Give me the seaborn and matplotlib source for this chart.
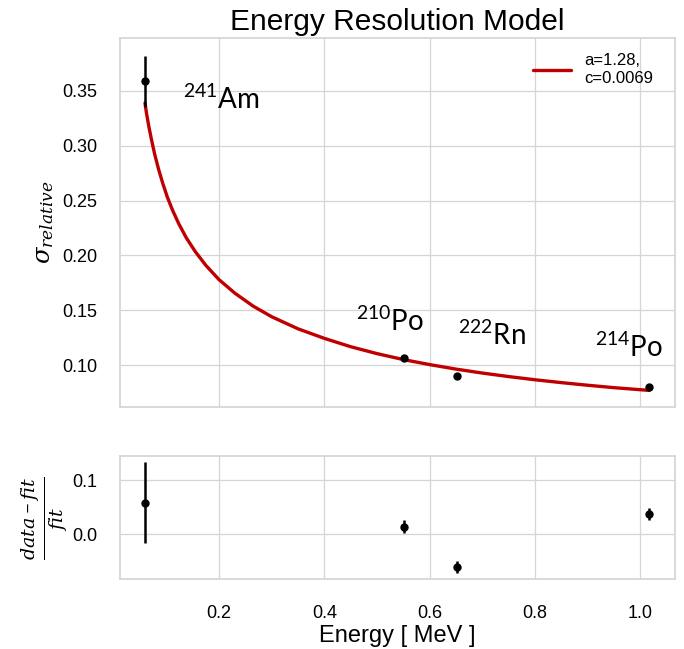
import matplotlib
matplotlib.use("Agg")
import matplotlib.pyplot as plt
import numpy as np
import pandas as pd
import seaborn as sns

# measured peaks
isotopes = ["$^{241}$Am", "$^{210}$Po", "$^{222}$Rn", "$^{214}$Po"]
energy = [0.0595, 0.551, 0.6515, 1.017]
sigma_rel = [0.3586, 0.1066, 0.0905, 0.0800]
sigma_err = [0.0233, 0.0013, 0.0011, 0.0011]
residual = [0.0585, 0.0141, -0.0611, 0.0376]
residual_err = [0.075, 0.012, 0.011, 0.011]

# fitted model curve
fit_energy = [0.0595, 0.0625, 0.067, 0.072, 0.078, 0.085, 0.093, 0.102, 0.112, 0.124,
              0.138, 0.155, 0.175, 0.20, 0.23, 0.265, 0.30, 0.35, 0.40, 0.45, 0.50,
              0.55, 0.60, 0.65, 0.70, 0.75, 0.80, 0.85, 0.90, 0.95, 1.017]
fit_sigma = [0.3388, 0.329, 0.317, 0.305, 0.292, 0.279, 0.266, 0.253, 0.241, 0.2285,
             0.216, 0.2035, 0.191, 0.178, 0.1657, 0.1538, 0.1442, 0.1332, 0.1245,
             0.1169, 0.1106, 0.1052, 0.1006, 0.0965, 0.0929, 0.0897, 0.0868, 0.0842,
             0.0818, 0.0796, 0.0771]
fit_label = "a=1.28,\nc=0.0069"

# label positions (left edge / baseline)
label_x = [0.131, 0.460, 0.6546, 0.914]
label_y = [0.3333, 0.1315, 0.1182, 0.1073]

sns.set_theme(style="whitegrid")
plt.rcParams["font.family"] = ["Liberation Sans", "DejaVu Sans"]
plt.rcParams["mathtext.fontset"] = "custom"
plt.rcParams["mathtext.rm"] = "Lato"
plt.rcParams["mathtext.it"] = "DejaVu Serif:italic"
plt.rcParams["text.color"] = "black"
plt.rcParams["axes.labelcolor"] = "black"
plt.rcParams["xtick.color"] = "black"
plt.rcParams["ytick.color"] = "black"

fit_df = pd.DataFrame({"E": fit_energy, "sigma": fit_sigma})

fig = plt.figure(figsize=(6.84, 6.49), dpi=100)
ax = fig.add_axes([0.1754, 0.3729, 0.8114, 0.5686])
ax2 = fig.add_axes([0.1754, 0.1074, 0.8114, 0.1895], sharex=ax)

sns.lineplot(data=fit_df, x="E", y="sigma", ax=ax, color="#C00000", linewidth=2.4,
             label=fit_label, zorder=3)
ax.errorbar(energy, sigma_rel, yerr=sigma_err, fmt="o", color="black", markersize=5,
            elinewidth=1.8, capsize=0, zorder=4)
for name, lx, ly in zip(isotopes, label_x, label_y):
    ax.text(lx, ly, name, fontsize=20, family="Lato", va="baseline", ha="left")

ax.set_xlim(0.012, 1.066)
ax.set_ylim(0.062, 0.398)
ax.set_yticks([0.10, 0.15, 0.20, 0.25, 0.30, 0.35])
ax.set_yticklabels(["0.10", "0.15", "0.20", "0.25", "0.30", "0.35"])
ax.tick_params(axis="y", labelsize=13, pad=10.5)
ax.tick_params(axis="x", labelbottom=False)
ax.set_xlabel("")
ax.set_ylabel(r"$\sigma_{relative}$", fontsize=17.5, labelpad=4)
ax.set_title("Energy Resolution Model", fontsize=21.5, pad=6)
ax.legend(loc="upper left", bbox_to_anchor=(0.744, 0.958), frameon=False, fontsize=12,
          handlelength=2.3, handletextpad=0.8, borderpad=0, borderaxespad=0,
          labelspacing=0.1)

ax2.errorbar(energy, residual, yerr=residual_err, fmt="o", color="black", markersize=5,
             elinewidth=1.8, capsize=0, zorder=4)
ax2.set_ylim(-0.083, 0.144)
ax2.set_yticks([0.0, 0.1])
ax2.set_yticklabels(["0.0", "0.1"])
ax2.set_xticks([0.2, 0.4, 0.6, 0.8, 1.0])
ax2.set_xticklabels(["0.2", "0.4", "0.6", "0.8", "1.0"])
ax2.tick_params(axis="y", labelsize=13, pad=10.5)
ax2.tick_params(axis="x", labelsize=13, pad=12.5)
ax2.set_xlabel("Energy [ MeV ]", fontsize=17, labelpad=2)
ax2.set_ylabel(r"$\frac{data-fit}{fit}$", fontsize=19.5, labelpad=2)

for a in (ax, ax2):
    for s in a.spines.values():
        s.set_color("#d5d5d5")
    a.grid(color="#d5d5d5", linewidth=0.9)

fig.savefig("out.png", dpi=100)
